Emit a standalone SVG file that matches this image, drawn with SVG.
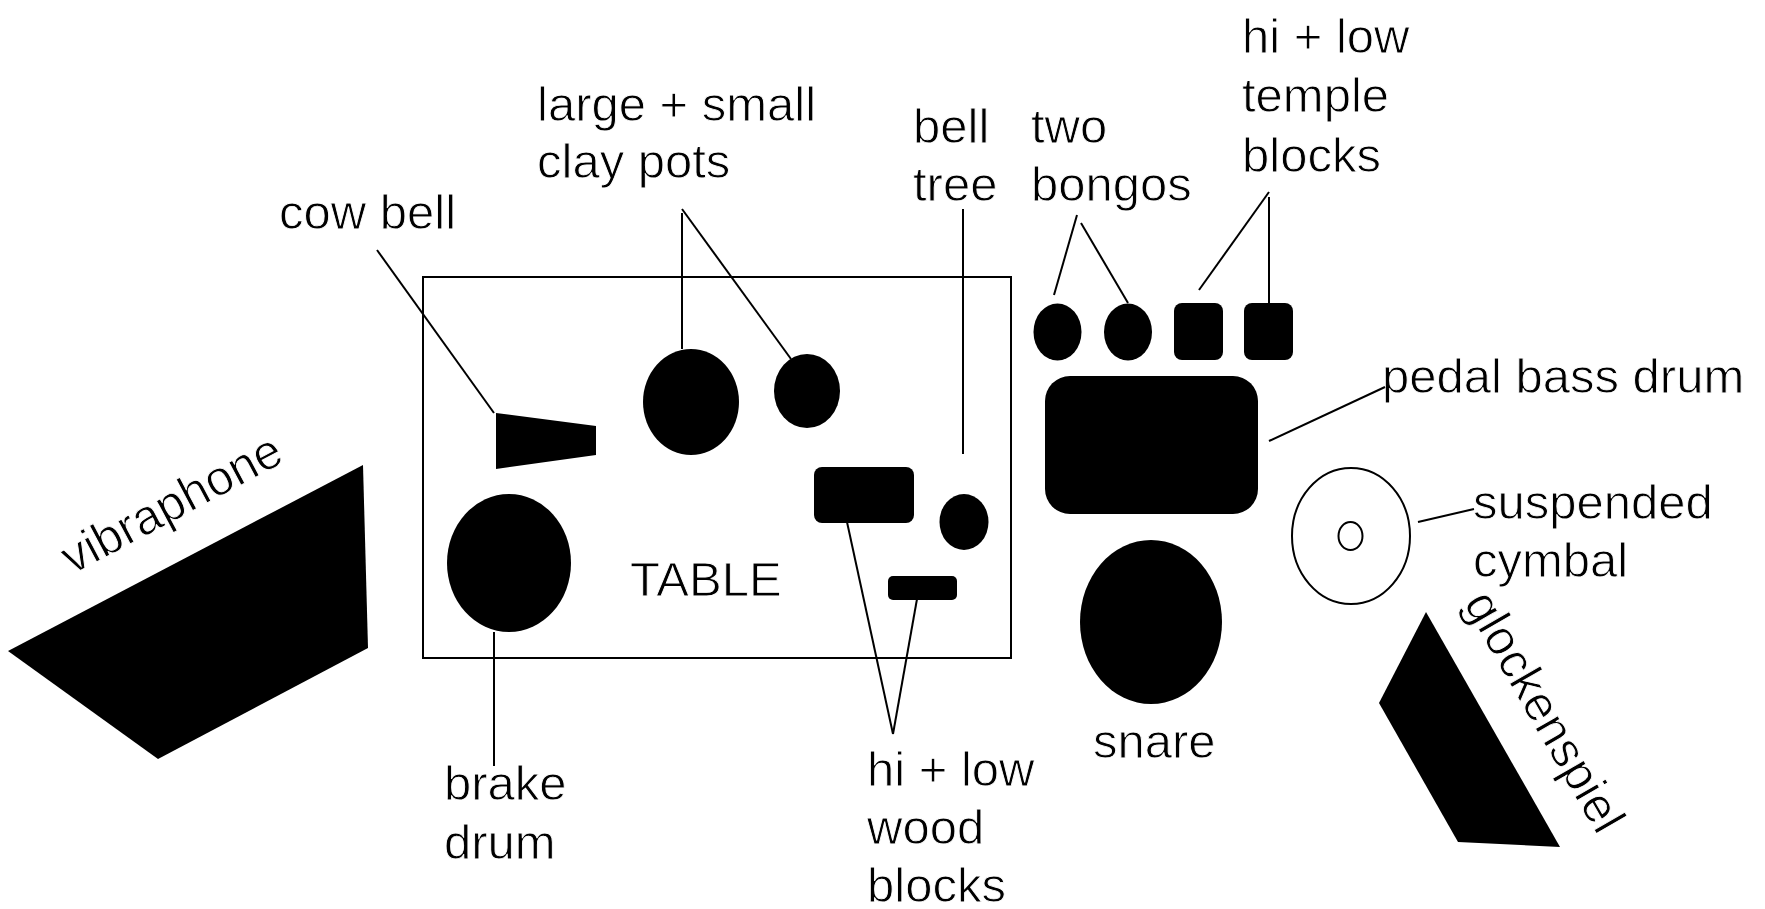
<svg xmlns="http://www.w3.org/2000/svg" width="1765" height="909" viewBox="0 0 1765 909">
<style>
  text { font-family: "Liberation Sans", Arial, Helvetica, sans-serif; font-size: 49px; fill: #000; stroke: #fff; stroke-width: 0.9px; }
  .solid { fill: #000; stroke: none; }
  .outline { fill: none; stroke: #000; stroke-width: 2; }
  .conn line { stroke: #000; stroke-width: 2; }
</style>
<rect x="0" y="0" width="1765" height="909" fill="#fff"/>

<g id="table">
  <rect class="outline" x="423" y="277" width="588" height="381"/>
  <text x="630" y="596">TABLE</text>
</g>

<g id="vibraphone">
  <polygon class="solid" points="8,651 363,465 368,648 158,759"/>
  <text transform="translate(72,575) rotate(-28)">vibraphone</text>
</g>

<g id="cow-bell">
  <polygon class="solid" points="496,413 596,426 596,455 496,469"/>
  <text x="279" y="229">cow bell</text>
</g>

<g id="clay-pots">
  <ellipse class="solid" cx="691" cy="402" rx="48" ry="53"/>
  <ellipse class="solid" cx="807" cy="391" rx="33" ry="37"/>
  <text x="537" y="121">large + small</text>
  <text x="537" y="178">clay pots</text>
</g>

<g id="brake-drum">
  <ellipse class="solid" cx="509" cy="563" rx="62" ry="69"/>
  <text x="444" y="800">brake</text>
  <text x="444" y="859">drum</text>
</g>

<g id="wood-blocks">
  <rect class="solid" x="814" y="467" width="100" height="56" rx="8"/>
  <rect class="solid" x="888" y="576" width="69" height="24" rx="5"/>
  <text x="867" y="786">hi + low</text>
  <text x="867" y="844">wood</text>
  <text x="867" y="902">blocks</text>
</g>

<g id="bell-tree">
  <ellipse class="solid" cx="964" cy="522" rx="24.5" ry="28"/>
  <text x="913" y="143">bell</text>
  <text x="913" y="201">tree</text>
</g>

<g id="bongos">
  <ellipse class="solid" cx="1057.5" cy="332" rx="24" ry="28.5"/>
  <ellipse class="solid" cx="1128" cy="332" rx="24" ry="28.5"/>
  <text x="1031" y="143">two</text>
  <text x="1031" y="201">bongos</text>
</g>

<g id="temple-blocks">
  <rect class="solid" x="1174" y="303" width="49" height="57" rx="8"/>
  <rect class="solid" x="1244" y="303" width="49" height="57" rx="8"/>
  <text x="1242" y="53">hi + low</text>
  <text x="1242" y="112">temple</text>
  <text x="1242" y="172">blocks</text>
</g>

<g id="pedal-bass-drum">
  <rect class="solid" x="1045" y="376" width="213" height="138" rx="25"/>
  <text x="1382" y="393">pedal bass drum</text>
</g>

<g id="suspended-cymbal">
  <ellipse class="outline" cx="1351" cy="536" rx="59" ry="68"/>
  <ellipse class="outline" cx="1350.5" cy="536" rx="12" ry="14"/>
  <text x="1473" y="519">suspended</text>
  <text x="1473" y="577">cymbal</text>
</g>

<g id="snare">
  <ellipse class="solid" cx="1151" cy="622" rx="71" ry="82"/>
  <text x="1093" y="758">snare</text>
</g>

<g id="glockenspiel">
  <polygon class="solid" points="1426,612 1379,703 1458,842 1560,847"/>
  <text transform="translate(1463,603) rotate(60)">glockenspiel</text>
</g>

<g id="connectors" class="conn">
  <line x1="377" y1="250" x2="494" y2="413"/>
  <line x1="682" y1="213" x2="682" y2="349"/>
  <line x1="682" y1="209" x2="791" y2="359"/>
  <line x1="963" y1="209" x2="963" y2="454"/>
  <line x1="1077" y1="215" x2="1054" y2="295"/>
  <line x1="1081" y1="223" x2="1128" y2="303"/>
  <line x1="1269" y1="192" x2="1199" y2="290"/>
  <line x1="1269" y1="197" x2="1269" y2="303"/>
  <line x1="1269" y1="441" x2="1385" y2="387"/>
  <line x1="1418" y1="522" x2="1474" y2="509"/>
  <line x1="494" y1="632" x2="494" y2="766"/>
  <line x1="847" y1="522" x2="893" y2="734"/>
  <line x1="917" y1="599" x2="893" y2="734"/>
</g>
</svg>
